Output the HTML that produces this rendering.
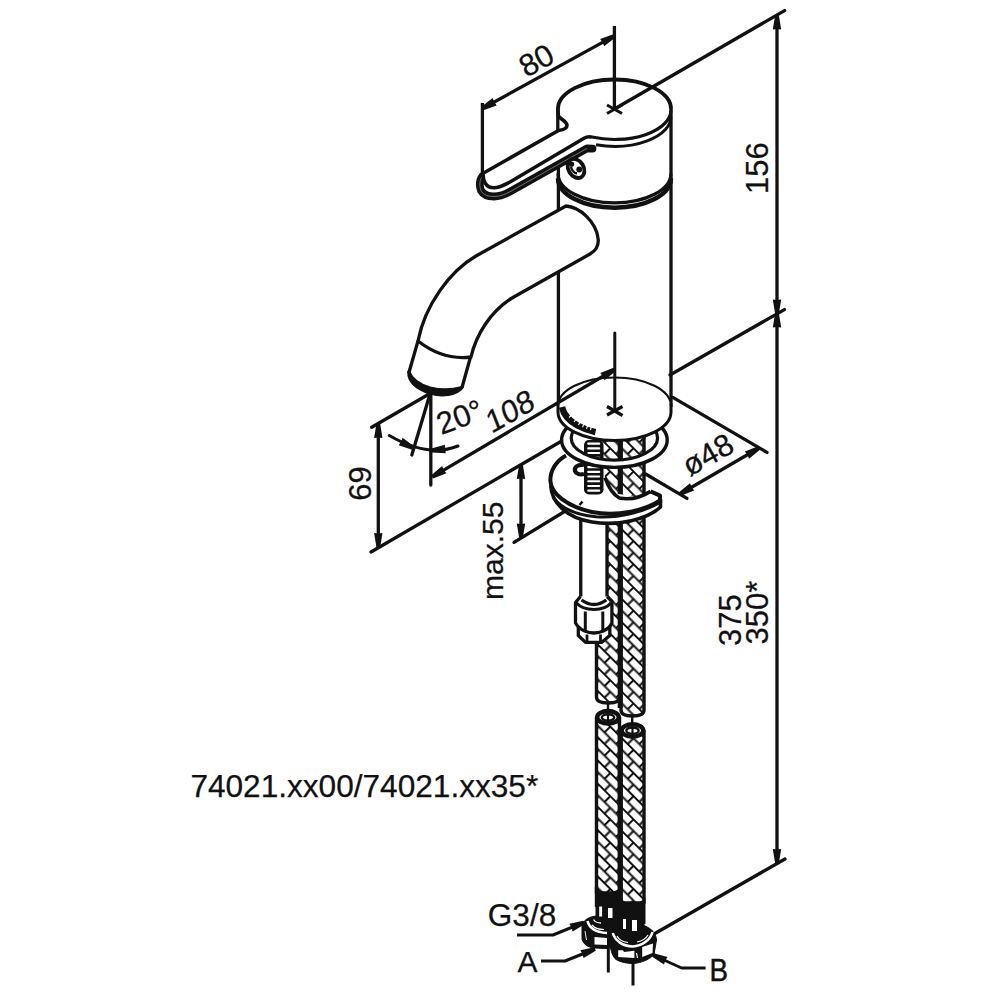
<!DOCTYPE html>
<html><head><meta charset="utf-8"><style>
html,body{margin:0;padding:0;background:#fff;width:1000px;height:1000px;overflow:hidden}
svg{display:block}
text{font-family:"Liberation Sans",sans-serif}
</style></head><body>
<svg width="1000" height="1000" viewBox="0 0 1000 1000" stroke="#111" fill="none" stroke-linejoin="round">
<line x1="482.4" y1="103" x2="482.4" y2="174.5" stroke-width="3.3" stroke-linecap="butt"/>
<line x1="614.4" y1="26" x2="614.4" y2="109" stroke-width="3.3" stroke-linecap="butt"/>
<line x1="482.4" y1="108.5" x2="614.4" y2="35.9" stroke-width="3.3" stroke-linecap="butt"/>
<path d="M481.48,106.84 L492.64,98.07 L494.23,101.99 L496.69,105.43 L483.32,110.16 Z" fill="#111" stroke="none"/>
<path d="M615.32,37.56 L604.16,46.33 L602.57,42.41 L600.11,38.97 L613.48,34.24 Z" fill="#111" stroke="none"/>
<text x="0" y="0" dy="0.358em" transform="translate(536.2,60) rotate(-29)" text-anchor="middle" font-size="31" fill="#111" stroke="#111" stroke-width="0.25">80</text>
<line x1="614.4" y1="109" x2="784.6" y2="10.6" stroke-width="3.3" stroke-linecap="round"/>
<line x1="670" y1="375" x2="784.4" y2="309.6" stroke-width="3.3" stroke-linecap="round"/>
<line x1="654" y1="934" x2="785" y2="859" stroke-width="3.3" stroke-linecap="round"/>
<line x1="777.0" y1="15.5" x2="777.0" y2="313.5" stroke-width="3.3" stroke-linecap="butt"/>
<path d="M778.90,15.50 L781.20,29.50 L777.00,29.00 L772.80,29.50 L775.10,15.50 Z" fill="#111" stroke="none"/>
<path d="M775.10,313.50 L772.80,299.50 L777.00,300.00 L781.20,299.50 L778.90,313.50 Z" fill="#111" stroke="none"/>
<line x1="777.0" y1="313.5" x2="777.0" y2="863" stroke-width="3.3" stroke-linecap="butt"/>
<path d="M778.90,313.50 L781.20,327.50 L777.00,327.00 L772.80,327.50 L775.10,313.50 Z" fill="#111" stroke="none"/>
<path d="M775.10,863.00 L772.80,849.00 L777.00,849.50 L781.20,849.00 L778.90,863.00 Z" fill="#111" stroke="none"/>
<text x="0" y="0" dy="0.358em" transform="translate(757.2,168.1) rotate(-90)" text-anchor="middle" font-size="31" fill="#111" stroke="#111" stroke-width="0.25">156</text>
<text x="0" y="0" dy="0.358em" transform="translate(729.6,620.2) rotate(-90)" text-anchor="middle" font-size="31" fill="#111" stroke="#111" stroke-width="0.25">375</text>
<text x="0" y="0" dy="0.358em" transform="translate(757.2,612.5) rotate(-90)" text-anchor="middle" font-size="31" fill="#111" stroke="#111" stroke-width="0.25">350*</text>
<line x1="558.4" y1="166" x2="558.4" y2="210" stroke-width="3.3" stroke-linecap="butt"/>
<line x1="558.4" y1="272" x2="558.4" y2="406" stroke-width="3.3" stroke-linecap="butt"/>
<line x1="671" y1="109" x2="671" y2="407" stroke-width="3.3" stroke-linecap="butt"/>
<path d="M558.0,109 A56.5,29.5 0 0 1 671.0,109" stroke-width="3.9" fill="none" />
<path d="M671.0,110 A56.5,29.5 0 0 1 592.00,137.06" stroke-width="3.2" fill="none" />
<path d="M671.0,116.8 A56.5,29.5 0 0 1 596.00,144.67" stroke-width="3.0" fill="none" />
<path d="M558,173.4 A56.5,29.5 0 0 0 671,173.4" stroke-width="3.2" fill="none" />
<path d="M558,178.2 A56.5,29.5 0 0 0 671,178.2" stroke-width="4.4" fill="none" />
<path d="M484,175 C478.5,179 479.5,187 481,190.5 C483.5,195 488,196.5 494,196.5 C500,196.5 505,194.5 510,191.7 L587,148.4 L592.5,148.6" stroke-width="7.8" fill="none" stroke-linecap="round"/>
<path d="M484,175 C478.5,179 479.5,187 481,190.5 C483.5,195 488,196.5 494,196.5 C500,196.5 505,194.5 510,191.7 L587,148.4" stroke="#888" stroke-width="0.8" fill="none"/>
<path d="M558,109 L558.3,116 C560,119 567,121 567,125.5 C567,128.5 562,130 558.5,130.5 L483.2,173.2 C482.6,181 486,187.8 494,187.8 C500,187.8 505,184.5 510,182 L584,138.3 C587,136.5 590,136.5 592,137.2 Z" fill="#fff" stroke="none"/>
<path d="M558,109 L558.3,116 C560,119 567,121 567,125.5 C567,128.5 562,130 558.5,130.5 L483.2,173.2 C482.6,181 486,187.8 494,187.8 C500,187.8 505,184.5 510,182 L584,138.3 C587,136.5 590,136.5 592,137.2" stroke-width="3.6" fill="none" />
<line x1="557.8" y1="109" x2="557.8" y2="131" stroke-width="3.3" stroke-linecap="butt"/>
<ellipse cx="576" cy="168.4" rx="7.6" ry="10.2" transform="rotate(-32 576 168.4)" stroke-width="3.8" fill="#fff"/>
<circle cx="571.5" cy="164.2" r="2.6" fill="#111" stroke="none"/><circle cx="579.2" cy="169.5" r="2.9" fill="#111" stroke="none"/>
<path d="M571,167 C572,171 574,173 577,173.5" stroke-width="2.4" fill="none" />
<line x1="607" y1="105" x2="622" y2="113.5" stroke-width="3" stroke-linecap="butt"/>
<line x1="607" y1="113.5" x2="622" y2="105" stroke-width="3" stroke-linecap="butt"/>
<path d="M566,206 L476,256 C450,271 425,305 418,341 Q443,360.5 471,357 C476,335 490,312 512,298 L590,254 C597,250 599,244 598,238 C596,222 580,207 566,206 Z" stroke-width="3.3" fill="#fff" />
<path d="M418,341 L408.8,373" stroke-width="3.3" fill="none" />
<path d="M470.5,357 L462,387.5" stroke-width="3.3" fill="none" />
<path d="M408.8,372 C408.5,382 418,389 430,393 C442,396.5 456,395 462,387.5 C452,390.5 440,390.5 430,388 C420,385 412,380 408.8,372 Z" fill="#111" stroke="#111" stroke-width="3.2" stroke-linejoin="round"/>
<line x1="430" y1="393.5" x2="371.7" y2="427.3" stroke-width="3.3" stroke-linecap="round"/>
<line x1="430.8" y1="393.5" x2="430.8" y2="485" stroke-width="3.3" stroke-linecap="round"/>
<line x1="430" y1="394" x2="411.8" y2="455" stroke-width="3.3" stroke-linecap="round"/>
<path d="M389.3,435.5 Q428,458 458,446" stroke-width="3.0" fill="none" stroke-linecap="round"/>
<path d="M412.12,449.68 L398.66,445.20 L401.05,441.71 L402.57,437.76 L413.88,446.32 Z" fill="#111" stroke="none"/>
<path d="M431.29,448.61 L444.96,444.80 L444.92,449.03 L445.87,453.15 L431.71,452.39 Z" fill="#111" stroke="none"/>
<text x="0" y="0" dy="0.358em" transform="translate(459.5,416.5) rotate(-20)" text-anchor="middle" font-size="31" fill="#111" stroke="#111" stroke-width="0.25">20°</text>
<text x="0" y="0" dy="0.358em" transform="translate(509.8,410.7) rotate(-30) skewX(-8.5)" text-anchor="middle" font-size="31" fill="#111" stroke="#111" stroke-width="0.25">108</text>
<line x1="371" y1="552" x2="566" y2="438.5" stroke-width="3.3" stroke-linecap="round"/>
<line x1="378.3" y1="424" x2="378.3" y2="547" stroke-width="3.3" stroke-linecap="butt"/>
<path d="M380.20,424.00 L382.50,438.00 L378.30,437.50 L374.10,438.00 L376.40,424.00 Z" fill="#111" stroke="none"/>
<path d="M376.40,547.00 L374.10,533.00 L378.30,533.50 L382.50,533.00 L380.20,547.00 Z" fill="#111" stroke="none"/>
<text x="0" y="0" dy="0.358em" transform="translate(360,483.5) rotate(-90)" text-anchor="middle" font-size="31" fill="#111" stroke="#111" stroke-width="0.25">69</text>
<line x1="514" y1="542.3" x2="565.4" y2="511" stroke-width="3.3" stroke-linecap="round"/>
<line x1="521" y1="465" x2="521" y2="537.4" stroke-width="3.3" stroke-linecap="butt"/>
<path d="M522.90,465.00 L525.20,479.00 L521.00,478.50 L516.80,479.00 L519.10,465.00 Z" fill="#111" stroke="none"/>
<path d="M519.10,537.40 L516.80,523.40 L521.00,523.90 L525.20,523.40 L522.90,537.40 Z" fill="#111" stroke="none"/>
<text x="0" y="0" dy="0" transform="translate(502.9,550.7) rotate(-90)" text-anchor="middle" font-size="30" fill="#111" stroke="#111" stroke-width="0.25">max.55</text>
<line x1="672.8" y1="397.4" x2="767" y2="452.4" stroke-width="3.3" stroke-linecap="round"/>
<line x1="645.6" y1="474" x2="687" y2="498.4" stroke-width="3.3" stroke-linecap="round"/>
<line x1="680" y1="494" x2="759" y2="448" stroke-width="3.3" stroke-linecap="butt"/>
<path d="M679.04,492.36 L689.99,483.33 L691.67,487.21 L694.21,490.58 L680.96,495.64 Z" fill="#111" stroke="none"/>
<path d="M759.96,449.64 L749.01,458.67 L747.33,454.79 L744.79,451.42 L758.04,446.36 Z" fill="#111" stroke="none"/>
<text x="0" y="0" dy="0.358em" transform="translate(707.6,454.3) rotate(-29.5)" text-anchor="middle" font-size="31" fill="#111" stroke="#111" stroke-width="0.25">ø48</text>
<defs>
<pattern id="braid" patternUnits="userSpaceOnUse" width="16.4" height="16.4" patternTransform="translate(598,436) rotate(45)">
<rect x="0" y="0" width="16.4" height="16.4" fill="#fff" stroke="none"/>
<path d="M0,0 H16.4 M0,8.2 H16.4 M0,16.4 H16.4 M1,0 V8.2 M9.2,8.2 V16.4" stroke="#111" stroke-width="2.1" fill="none"/>
</pattern>
</defs>
<path d="M596.5,430 L596.5,697 Q596.5,703 608.25,703 Q620,703 620,697 L620,430 Z" fill="url(#braid)" stroke="none"/>
<path d="M596.5,430 L596.5,697 Q596.5,703 608.25,703 Q620,703 620,697 L620,430" stroke-width="3.4" fill="none" />
<path d="M621,430 L621,710 Q621,716 632.5,716 Q644,716 644,710 L644,430 Z" fill="url(#braid)" stroke="none"/>
<path d="M621,430 L621,710 Q621,716 632.5,716 Q644,716 644,710 L644,430" stroke-width="3.4" fill="none" />
<line x1="620.2" y1="430" x2="620.2" y2="708" stroke-width="5" stroke-linecap="butt"/>
<rect x="580.75" y="510" width="26.25" height="93" fill="#fff" stroke="none"/>
<line x1="580.75" y1="510" x2="580.75" y2="601" stroke-width="3.3" stroke-linecap="butt"/>
<line x1="607" y1="510" x2="607" y2="601" stroke-width="3.3" stroke-linecap="butt"/>
<path d="M550.8,486 C551.5,502 566,518 592,522 C618,526.5 648,519 660.5,507 L660.5,499" stroke-width="3.6" fill="#fff" />
<path d="M566,455.5 C556,461 550,471 550.4,481 C551,493 566,506.5 592,512 C618,517 646,510 660,500.4 L660,495.6 L650.6,491.4 C640,498 629,500 619.4,498 C612,494 608,486 605,477.6 L603,462 L572,456 Z" fill="#fff" stroke="none"/>
<path d="M566,455.5 C556,461 550,471 550.4,481 C551,493 566,506.5 592,512 C618,517 646,510 660,500.4 L660,495.6 L650.6,491.4" stroke-width="4.0" fill="none" />
<path d="M650.6,491.4 C640,498 629,500 619.4,498 C612,494 608,486 605,477.6" stroke-width="3.6" fill="none" />
<path d="M553,497 C562,510 578,515 596,516.8 C620,518.5 645,511 659,503" stroke-width="3.0" fill="none" />
<line x1="579.5" y1="505" x2="582.5" y2="501.5" stroke-width="2.6" stroke-linecap="butt"/>
<path d="M584,465 C578,464 574,467 575,471 C576,474 580,475 584,474" fill="none" stroke="#111" stroke-width="4.2"/>
<rect x="584" y="440" width="19.5" height="54.5" rx="5" fill="#111" stroke="none"/>
<rect x="587.2" y="442.6" width="13" height="2.1" rx="1" fill="#fff" stroke="none"/>
<rect x="587.2" y="447.3" width="13" height="2.1" rx="1" fill="#fff" stroke="none"/>
<rect x="587.2" y="452.0" width="13" height="2.1" rx="1" fill="#fff" stroke="none"/>
<rect x="587.2" y="456.7" width="13" height="2.1" rx="1" fill="#fff" stroke="none"/>
<rect x="587.2" y="461.4" width="13" height="2.1" rx="1" fill="#fff" stroke="none"/>
<rect x="587.2" y="466.1" width="13" height="2.1" rx="1" fill="#fff" stroke="none"/>
<rect x="587.2" y="470.8" width="13" height="2.1" rx="1" fill="#fff" stroke="none"/>
<rect x="587.2" y="475.5" width="13" height="2.1" rx="1" fill="#fff" stroke="none"/>
<rect x="587.2" y="480.2" width="13" height="2.1" rx="1" fill="#fff" stroke="none"/>
<rect x="587.2" y="484.9" width="13" height="2.1" rx="1" fill="#fff" stroke="none"/>
<rect x="587.2" y="489.6" width="13" height="2.1" rx="1" fill="#fff" stroke="none"/>
<path d="M561.6,440 A52.8,27.4 0 0 1 667.2,440 A52.8,27.4 0 0 1 561.6,440 Z M571.2,438 A43.2,22.2 0 0 1 657.6,438 A43.2,22.2 0 0 1 571.2,438 Z" fill="#fff" fill-rule="evenodd" stroke="none"/>
<ellipse cx="614.4" cy="440" rx="52.8" ry="27.4" stroke-width="3.4" fill="none"/>
<ellipse cx="614.4" cy="438" rx="43.2" ry="22.2" stroke-width="3.2" fill="none"/>
<path d="M558,406 A56.5,28.5 0 0 1 671,406 L671,412 A56.5,28.5 0 0 1 558,412 Z" fill="#fff" stroke="none"/>
<path d="M558,406 A56.5,28.5 0 0 1 671,406" stroke-width="2.2" fill="none" />
<path d="M558,403 L558,412 A56.5,28.5 0 0 0 671,412 L671,403" stroke-width="3.0" fill="none" />
<line x1="607" y1="406.5" x2="622.5" y2="415.5" stroke-width="3.2" stroke-linecap="butt"/>
<line x1="607" y1="415" x2="622.5" y2="406.5" stroke-width="3.2" stroke-linecap="butt"/>
<line x1="614.8" y1="333" x2="614.8" y2="410" stroke-width="3.0" stroke-linecap="round"/>
<line x1="432.2" y1="476.8" x2="614.5" y2="369.5" stroke-width="3.3" stroke-linecap="butt"/>
<path d="M431.24,475.16 L442.13,466.08 L443.83,469.95 L446.40,473.32 L433.16,478.44 Z" fill="#111" stroke="none"/>
<path d="M615.46,371.14 L604.57,380.22 L602.87,376.35 L600.30,372.98 L613.54,367.86 Z" fill="#111" stroke="none"/>
<path d="M562,407 C563.5,414.5 569.5,421 577.5,425.5 C584,429 590,431 595.5,432.2" stroke-width="6.4" fill="none" />
<path d="M569,417.5 l2.2,-2 M574,422 l1.8,-2.4 M578.5,425 l1.4,-2.8 M582.5,427.2 l1.2,-2.8 M586.5,428.8 l1,-3 M590.5,430 l0.8,-3" stroke="#fff" stroke-width="1.1" fill="none"/>
<path d="M578.3,626 L578.3,635.5 L585.5,642.4 L601.5,642.4 L609.8,635.5 L609.8,626" stroke-width="3.3" fill="#fff" />
<line x1="587" y1="634.5" x2="587" y2="641.5" stroke-width="2.8" stroke-linecap="butt"/>
<line x1="600.5" y1="634.5" x2="600.5" y2="641.5" stroke-width="2.8" stroke-linecap="butt"/>
<path d="M580.5,596.5 L575.5,602.5 L575.5,623 C580,631 589,633 594,633 C599,633 608,631 611.9,623 L611.9,601.5 L607.2,596.5" stroke-width="3.3" fill="#fff" />
<path d="M581.5,600 Q594,609 606.3,600" stroke-width="3.3" fill="none" />
<path d="M576.5,603 C584,611.5 604,611.5 611,603" stroke-width="3.0" fill="none" />
<line x1="585.3" y1="611.5" x2="585.3" y2="630.5" stroke-width="3.0" stroke-linecap="butt"/>
<line x1="602.8" y1="611.5" x2="602.8" y2="630.5" stroke-width="3.0" stroke-linecap="butt"/>
<line x1="608" y1="702" x2="608" y2="712" stroke-width="2.4" stroke-linecap="butt"/>
<line x1="632.2" y1="715" x2="632.2" y2="725" stroke-width="2.4" stroke-linecap="butt"/>
<path d="M596.5,717 L596.5,893 L619.5,893 L619.5,717 Z" fill="url(#braid)" stroke="none"/>
<path d="M596.5,717 L596.5,893 L619.5,893 L619.5,717" stroke-width="3.4" fill="none" />
<path d="M594.8,887 Q608,898 621.2,887 L621.2,907 L594.8,907 Z" fill="#111" stroke="none"/>
<ellipse cx="608" cy="717.3" rx="10.8" ry="6.3" fill="#fff" stroke-width="4.4"/>
<ellipse cx="608" cy="717.5" rx="6.2" ry="3.2" fill="#fff" stroke-width="2.4"/>
<line x1="608" y1="713" x2="608" y2="722" stroke-width="2.2" stroke-linecap="butt"/>
<path d="M621,730 L621,903 L644,903 L644,730 Z" fill="url(#braid)" stroke="none"/>
<path d="M621,730 L621,903 L644,903 L644,730" stroke-width="3.4" fill="none" />
<path d="M619,898 Q632.2,909 645.5,898 L645.5,924 L619,924 Z" fill="#111" stroke="none"/>
<ellipse cx="632.5" cy="730.5" rx="10.8" ry="6.3" fill="#fff" stroke-width="4.4"/>
<ellipse cx="632.5" cy="730.7" rx="6.2" ry="3.2" fill="#fff" stroke-width="2.4"/>
<line x1="632.5" y1="726" x2="632.5" y2="735" stroke-width="2.2" stroke-linecap="butt"/>
<line x1="620.2" y1="730" x2="620.2" y2="905" stroke-width="5" stroke-linecap="butt"/>
<path d="M596,906 L596,916 C588,917 582,921 582,927 L582,939 C583,944 588,947.5 594,948 L607,948.5 L614,945 L614,925 L620,918 L620,906 Z" fill="#111" stroke="#111" stroke-width="1"/>
<rect x="599.2" y="906.5" width="2.9" height="10" fill="#fff" stroke="none"/><rect x="608" y="908" width="4.5" height="10" fill="#fff" stroke="none"/>
<path d="M587.5,921 C589.5,929 598,932.5 607,933" stroke="#fff" stroke-width="2.6" fill="none"/>
<path d="M592,925 C595,928.5 600,929.5 604,929.5" stroke="#fff" stroke-width="1.2" fill="none"/>
<path d="M593.5,919.5 C595,922 598,923 601,923" stroke="#fff" stroke-width="1.3" fill="none"/>
<path d="M594.5,937 L607,938 L607,945 L594.5,944.5 Z" fill="#fff" stroke="none"/>
<path d="M585,931 L586.5,940" stroke="#fff" stroke-width="0.9" fill="none"/>
<line x1="608.3" y1="946" x2="608.3" y2="972.5" stroke-width="3" stroke-linecap="butt"/>
<rect x="613" y="918.5" width="9" height="15" fill="#111" stroke="none"/>
<path d="M620.5,903 L620.5,925 C614,927 609,932 609.5,937 L609.8,944 C611,952 613,957 616,959.5 C621,962.5 628,963.5 633,963.5 C642,963 650,959 654,954.5 L656.5,940 C656,933 652,929 644,925.5 L644,903 Z" fill="#111" stroke="#111" stroke-width="1"/>
<rect x="623" y="919" width="3" height="10" fill="#fff" stroke="none"/><rect x="632" y="920" width="5" height="11" fill="#fff" stroke="none"/>
<path d="M612.8,933 C615,941 623,946 632.5,946.5 C642,946 650.5,940 652.5,932" stroke="#fff" stroke-width="2.6" fill="none"/>
<path d="M617,936 C619,940 624,942 628,942.5 M637,942 C642,941 646,938.5 648,935" stroke="#fff" stroke-width="1.2" fill="none"/>
<path d="M618.2,950.2 L623,950.2 L624,952 L634.4,950.8 L634.4,958 L618.2,957 Z" fill="#fff" stroke="none"/>
<path d="M642.2,947 L653,943.5 L652.5,953 L642.2,957 Z" fill="#fff" stroke="none"/>
<path d="M636.5,953 L637.5,958" stroke="#fff" stroke-width="1.2" fill="none"/>
<line x1="633" y1="962" x2="633" y2="985.5" stroke-width="3" stroke-linecap="butt"/>
<text x="0" y="0" dy="0.358em" transform="translate(522,914.5) rotate(0)" text-anchor="middle" font-size="31.5" fill="#111" stroke="#111" stroke-width="0.25">G3/8</text>
<path d="M517,935 L553,935 L584,922.4" stroke-width="3.0" fill="none" />
<path d="M584.72,924.16 L572.61,931.56 L571.49,927.48 L569.45,923.78 L583.28,920.64 Z" fill="#111" stroke="none"/>
<text x="0" y="0" dy="0.358em" transform="translate(527.4,960.8) rotate(0)" text-anchor="middle" font-size="30" fill="#111" stroke="#111" stroke-width="0.25">A</text>
<path d="M541,961 L565,961 L595,949" stroke-width="3.0" fill="none" />
<path d="M595.71,950.76 L583.56,958.10 L582.47,954.01 L580.44,950.30 L594.29,947.24 Z" fill="#111" stroke="none"/>
<text x="0" y="0" dy="0.358em" transform="translate(718.8,970) scale(0.88,1)" text-anchor="middle" font-size="31.5" fill="#111" stroke="#111" stroke-width="0.5">B</text>
<path d="M705.6,968 L681.6,968 L653,955" stroke-width="3.0" fill="none" />
<path d="M653.79,953.27 L667.48,956.97 L665.29,960.59 L664.01,964.62 L652.21,956.73 Z" fill="#111" stroke="none"/>
<text x="0" y="0" dy="0.358em" transform="translate(364.3,786) rotate(0)" text-anchor="middle" font-size="31.6" fill="#111" stroke="#111" stroke-width="0.25">74021.xx00/74021.xx35*</text>
</svg></body></html>
